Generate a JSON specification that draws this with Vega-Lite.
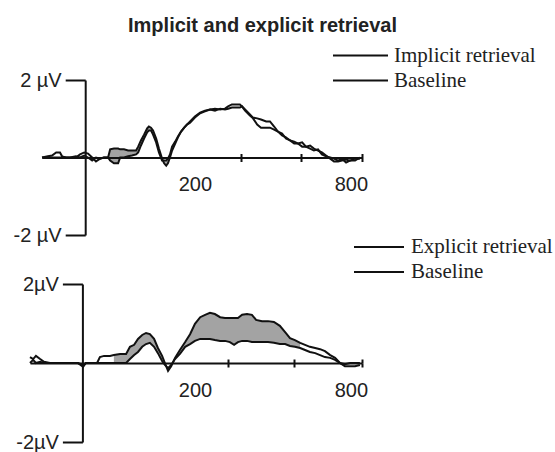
{
  "$schema": "https://vega.github.io/schema/vega-lite/v6.json",
  "width": 555,
  "height": 452,
  "autosize": {"type": "none"},
  "padding": 0,
  "background": "white",
  "title": {
    "text": "Implicit and explicit retrieval",
    "font": "Liberation Sans",
    "fontSize": 20,
    "fontWeight": "bold",
    "color": "#222222",
    "anchor": "middle",
    "frame": "group",
    "offset": -52,
    "baseline": "alphabetic",
    "dx": -15
  },
  "config": {
    "view": {"stroke": null},
    "axis": {
      "grid": false,
      "title": null,
      "domainColor": "#111111",
      "domainWidth": 2,
      "tickColor": "#111111",
      "tickWidth": 2,
      "labelColor": "#222222",
      "labelFont": "Liberation Sans",
      "labelFontSize": 20,
      "labelOverlap": false,
      "labelFlush": false,
      "labelBound": false
    },
    "legend": {
      "orient": "none",
      "title": null,
      "symbolType": "stroke",
      "symbolStrokeWidth": 2,
      "labelFont": "Liberation Serif",
      "labelFontSize": 21,
      "labelColor": "#222222",
      "clipHeight": 25,
      "rowPadding": 0,
      "padding": 0,
      "offset": 0
    }
  },
  "datasets": {
    "top": [
      {"t": -125, "imp": 0, "base": 0},
      {"t": -108, "imp": 0.03, "base": 0},
      {"t": -96, "imp": 0.05, "base": 0},
      {"t": -84, "imp": 0.13, "base": 0},
      {"t": -73, "imp": 0.13, "base": 0},
      {"t": -67, "imp": 0.03, "base": 0},
      {"t": -55, "imp": 0, "base": 0},
      {"t": -44, "imp": 0, "base": 0},
      {"t": -27, "imp": 0, "base": 0.03},
      {"t": -15, "imp": 0.08, "base": 0},
      {"t": -3, "imp": 0.13, "base": 0.05},
      {"t": 8, "imp": 0.1, "base": 0},
      {"t": 20, "imp": 0, "base": -0.08},
      {"t": 31, "imp": -0.1, "base": 0},
      {"t": 43, "imp": -0.03, "base": -0.03},
      {"t": 54, "imp": 0, "base": 0},
      {"t": 66, "imp": 0, "base": 0, "shade": 1},
      {"t": 72, "imp": 0.21, "base": -0.08, "shade": 1},
      {"t": 83, "imp": 0.23, "base": -0.15, "shade": 1},
      {"t": 95, "imp": 0.23, "base": -0.15, "shade": 1},
      {"t": 101, "imp": 0.21, "base": 0, "shade": 1},
      {"t": 112, "imp": 0.21, "base": 0, "shade": 1},
      {"t": 124, "imp": 0.18, "base": 0.03, "shade": 1},
      {"t": 135, "imp": 0.18, "base": 0.05, "shade": 1},
      {"t": 147, "imp": 0.18, "base": 0.08, "shade": 1},
      {"t": 153, "imp": 0.28, "base": 0.13, "shade": 1},
      {"t": 161, "imp": 0.44, "base": 0.31, "shade": 1},
      {"t": 170, "imp": 0.59, "base": 0.49, "shade": 1},
      {"t": 179, "imp": 0.75, "base": 0.65, "shade": 1},
      {"t": 184, "imp": 0.8, "base": 0.7, "shade": 1},
      {"t": 190, "imp": 0.77, "base": 0.7, "shade": 1},
      {"t": 196, "imp": 0.7, "base": 0.59, "shade": 1},
      {"t": 205, "imp": 0.49, "base": 0.39, "shade": 1},
      {"t": 213, "imp": 0.23, "base": 0.13, "shade": 1},
      {"t": 222, "imp": -0.03, "base": -0.08, "shade": 1},
      {"t": 228, "imp": -0.15, "base": -0.08, "shade": 1},
      {"t": 234, "imp": -0.21, "base": -0.08, "shade": 1},
      {"t": 239, "imp": -0.15, "base": -0.03, "shade": 1},
      {"t": 245, "imp": 0, "base": 0.08, "shade": 1},
      {"t": 251, "imp": 0.18, "base": 0.28, "shade": 1},
      {"t": 260, "imp": 0.36, "base": 0.41},
      {"t": 268, "imp": 0.52, "base": 0.54},
      {"t": 277, "imp": 0.67, "base": 0.67},
      {"t": 286, "imp": 0.77, "base": 0.77},
      {"t": 294, "imp": 0.85, "base": 0.85},
      {"t": 303, "imp": 0.93, "base": 0.9},
      {"t": 317, "imp": 1.06, "base": 1.03},
      {"t": 332, "imp": 1.16, "base": 1.14},
      {"t": 346, "imp": 1.21, "base": 1.19},
      {"t": 361, "imp": 1.24, "base": 1.24},
      {"t": 375, "imp": 1.26, "base": 1.21},
      {"t": 390, "imp": 1.24, "base": 1.26},
      {"t": 404, "imp": 1.26, "base": 1.24},
      {"t": 413, "imp": 1.32, "base": 1.26},
      {"t": 424, "imp": 1.37, "base": 1.29},
      {"t": 436, "imp": 1.37, "base": 1.29},
      {"t": 447, "imp": 1.37, "base": 1.29},
      {"t": 453, "imp": 1.32, "base": 1.32},
      {"t": 462, "imp": 1.21, "base": 1.24},
      {"t": 476, "imp": 1.08, "base": 1.11},
      {"t": 485, "imp": 1.01, "base": 1.03},
      {"t": 497, "imp": 0.85, "base": 1.01},
      {"t": 508, "imp": 0.77, "base": 0.98},
      {"t": 523, "imp": 0.77, "base": 0.93},
      {"t": 534, "imp": 0.77, "base": 0.93},
      {"t": 546, "imp": 0.72, "base": 0.8},
      {"t": 557, "imp": 0.67, "base": 0.67},
      {"t": 569, "imp": 0.57, "base": 0.62},
      {"t": 580, "imp": 0.52, "base": 0.49},
      {"t": 592, "imp": 0.44, "base": 0.44},
      {"t": 604, "imp": 0.41, "base": 0.36},
      {"t": 615, "imp": 0.36, "base": 0.36},
      {"t": 627, "imp": 0.28, "base": 0.39},
      {"t": 638, "imp": 0.28, "base": 0.28},
      {"t": 650, "imp": 0.31, "base": 0.23},
      {"t": 661, "imp": 0.23, "base": 0.18},
      {"t": 673, "imp": 0.18, "base": 0.21},
      {"t": 684, "imp": 0.13, "base": 0.08},
      {"t": 696, "imp": 0.05, "base": 0.03},
      {"t": 708, "imp": -0.03, "base": 0},
      {"t": 719, "imp": -0.1, "base": -0.03},
      {"t": 731, "imp": -0.1, "base": -0.08},
      {"t": 742, "imp": -0.08, "base": -0.03},
      {"t": 754, "imp": -0.05, "base": -0.13},
      {"t": 765, "imp": -0.08, "base": -0.08},
      {"t": 780, "imp": -0.03, "base": -0.08},
      {"t": 794, "imp": -0.03, "base": 0}
    ],
    "bottom": [
      {"t": -150, "exp": 0.15, "base": 0},
      {"t": -141, "exp": 0.1, "base": 0.08},
      {"t": -133, "exp": 0.18, "base": 0},
      {"t": -121, "exp": 0.1, "base": 0.03},
      {"t": -110, "exp": 0.03, "base": 0},
      {"t": -93, "exp": 0, "base": 0},
      {"t": -64, "exp": 0, "base": 0},
      {"t": -35, "exp": 0, "base": 0},
      {"t": -13, "exp": 0, "base": 0},
      {"t": 2, "exp": -0.1, "base": -0.05},
      {"t": 10, "exp": 0, "base": 0},
      {"t": 27, "exp": 0, "base": 0},
      {"t": 42, "exp": 0, "base": 0},
      {"t": 50, "exp": 0.15, "base": 0},
      {"t": 62, "exp": 0.18, "base": 0},
      {"t": 79, "exp": 0.18, "base": 0},
      {"t": 90, "exp": 0.2, "base": 0, "shade": 1},
      {"t": 108, "exp": 0.23, "base": 0, "shade": 1},
      {"t": 125, "exp": 0.23, "base": 0, "shade": 1},
      {"t": 136, "exp": 0.41, "base": 0.1, "shade": 1},
      {"t": 148, "exp": 0.46, "base": 0.2, "shade": 1},
      {"t": 159, "exp": 0.61, "base": 0.28, "shade": 1},
      {"t": 171, "exp": 0.71, "base": 0.41, "shade": 1},
      {"t": 182, "exp": 0.76, "base": 0.48, "shade": 1},
      {"t": 193, "exp": 0.73, "base": 0.51, "shade": 1},
      {"t": 205, "exp": 0.61, "base": 0.41, "shade": 1},
      {"t": 216, "exp": 0.38, "base": 0.25, "shade": 1},
      {"t": 228, "exp": 0.18, "base": 0.05, "shade": 1},
      {"t": 236, "exp": 0, "base": -0.05, "shade": 1},
      {"t": 245, "exp": -0.2, "base": -0.13, "shade": 1},
      {"t": 254, "exp": -0.08, "base": -0.05, "shade": 1},
      {"t": 265, "exp": 0.13, "base": 0.1, "shade": 1},
      {"t": 279, "exp": 0.33, "base": 0.23, "shade": 1},
      {"t": 294, "exp": 0.53, "base": 0.41, "shade": 1},
      {"t": 308, "exp": 0.73, "base": 0.48, "shade": 1},
      {"t": 322, "exp": 0.99, "base": 0.56, "shade": 1},
      {"t": 337, "exp": 1.16, "base": 0.61, "shade": 1},
      {"t": 351, "exp": 1.22, "base": 0.61, "shade": 1},
      {"t": 365, "exp": 1.27, "base": 0.61, "shade": 1},
      {"t": 379, "exp": 1.24, "base": 0.58, "shade": 1},
      {"t": 394, "exp": 1.16, "base": 0.56, "shade": 1},
      {"t": 408, "exp": 1.14, "base": 0.56, "shade": 1},
      {"t": 422, "exp": 1.14, "base": 0.53, "shade": 1},
      {"t": 434, "exp": 1.14, "base": 0.46, "shade": 1},
      {"t": 445, "exp": 1.14, "base": 0.53, "shade": 1},
      {"t": 457, "exp": 1.22, "base": 0.56, "shade": 1},
      {"t": 471, "exp": 1.24, "base": 0.56, "shade": 1},
      {"t": 485, "exp": 1.22, "base": 0.53, "shade": 1},
      {"t": 497, "exp": 1.09, "base": 0.53, "shade": 1},
      {"t": 514, "exp": 1.06, "base": 0.53, "shade": 1},
      {"t": 531, "exp": 1.06, "base": 0.53, "shade": 1},
      {"t": 548, "exp": 1.04, "base": 0.51, "shade": 1},
      {"t": 565, "exp": 0.94, "base": 0.48, "shade": 1},
      {"t": 580, "exp": 0.78, "base": 0.48, "shade": 1},
      {"t": 594, "exp": 0.63, "base": 0.43, "shade": 1},
      {"t": 608, "exp": 0.58, "base": 0.41, "shade": 1},
      {"t": 623, "exp": 0.51, "base": 0.38, "shade": 1},
      {"t": 637, "exp": 0.46, "base": 0.33},
      {"t": 651, "exp": 0.41, "base": 0.28},
      {"t": 666, "exp": 0.38, "base": 0.25},
      {"t": 680, "exp": 0.35, "base": 0.2},
      {"t": 694, "exp": 0.3, "base": 0.15},
      {"t": 709, "exp": 0.2, "base": 0.13},
      {"t": 723, "exp": 0.13, "base": 0.08},
      {"t": 737, "exp": 0, "base": 0},
      {"t": 751, "exp": -0.08, "base": -0.03},
      {"t": 766, "exp": -0.08, "base": 0},
      {"t": 780, "exp": -0.08, "base": 0},
      {"t": 794, "exp": -0.05, "base": 0}
    ]
  },
  "layer": [
    {
      "data": {"name": "top"},
      "transform": [{"filter": {"field": "shade", "equal": 1}}],
      "mark": {"type": "area", "color": "#a3a3a3", "opacity": 1},
      "encoding": {
        "x": {
          "field": "t", "type": "quantitative",
          "scale": {"domain": [-125, 800], "range": [42, 362], "nice": false, "zero": false},
          "axis": {"orient": "top", "offset": -157.5, "values": [450, 624, 800], "labels": false, "domain": false, "tickSize": 4, "zindex": 1}
        },
        "y": {
          "field": "imp", "type": "quantitative",
          "scale": {"domain": [-2, 2], "range": [235, 80], "nice": false, "zero": false},
          "axis": null
        },
        "y2": {"field": "base"}
      }
    },
    {
      "data": {"name": "top"},
      "transform": [{"fold": ["imp", "base"], "as": ["series", "v"]}],
      "mark": {"type": "line", "strokeWidth": 2, "strokeJoin": "miter"},
      "encoding": {
        "x": {
          "field": "t", "type": "quantitative",
          "scale": {"domain": [-125, 800], "range": [42, 362], "nice": false, "zero": false},
          "axis": {
            "orient": "bottom", "offset": -294.5,
            "values": [317, 450, 624, 768, 800],
            "labelExpr": "datum.value == 317 ? '200' : (datum.value == 768 ? '800' : '')",
            "tickOpacity": {"condition": {"test": "datum.value == 317 || datum.value == 768", "value": 0}, "value": 1},
            "tickSize": 4, "labelPadding": 13, "zindex": 1
          }
        },
        "y": {
          "field": "v", "type": "quantitative",
          "scale": {"domain": [-2, 2], "range": [235, 80], "nice": false, "zero": false},
          "axis": {
            "orient": "left", "offset": -85.2, "values": [-2, 2],
            "labelExpr": "datum.value > 0 ? '2 µV' : '-2 µV'",
            "tickSize": 20, "labelPadding": 4
          }
        },
        "color": {
          "field": "series", "type": "nominal",
          "scale": {"domain": ["imp", "base"], "range": ["#111111", "#111111"]},
          "legend": {
            "legendX": 332, "legendY": 43, "symbolSize": 3025, "labelOffset": 5,
            "labelExpr": "datum.label == 'imp' ? 'Implicit retrieval' : 'Baseline'"
          }
        },
        "detail": {"field": "series"}
      }
    },
    {
      "data": {"name": "bottom"},
      "transform": [{"filter": {"field": "shade", "equal": 1}}],
      "mark": {"type": "area", "color": "#a3a3a3", "opacity": 1},
      "encoding": {
        "x": {
          "field": "t", "type": "quantitative",
          "scale": {"domain": [-150, 800], "range": [30, 362], "nice": false, "zero": false},
          "axis": {"orient": "top", "offset": -363, "values": [417, 605, 800], "labels": false, "domain": false, "tickSize": 4, "zindex": 1}
        },
        "y": {
          "field": "exp", "type": "quantitative",
          "scale": {"domain": [-2, 2], "range": [442, 284], "nice": false, "zero": false},
          "axis": null
        },
        "y2": {"field": "base"}
      }
    },
    {
      "data": {"name": "bottom"},
      "transform": [{"fold": ["exp", "base"], "as": ["series", "v"]}],
      "mark": {"type": "line", "strokeWidth": 2, "strokeJoin": "miter"},
      "encoding": {
        "x": {
          "field": "t", "type": "quantitative",
          "scale": {"domain": [-150, 800], "range": [30, 362], "nice": false, "zero": false},
          "axis": {
            "orient": "bottom", "offset": -89,
            "values": [322, 417, 605, 768, 800],
            "labelExpr": "datum.value == 322 ? '200' : (datum.value == 768 ? '800' : '')",
            "tickOpacity": {"condition": {"test": "datum.value == 322 || datum.value == 768", "value": 0}, "value": 1},
            "tickSize": 4, "labelPadding": 13, "zindex": 1
          }
        },
        "y": {
          "field": "v", "type": "quantitative",
          "scale": {"domain": [-2, 2], "range": [442, 284], "nice": false, "zero": false},
          "axis": {
            "orient": "left", "offset": -82.4, "values": [-2, 2],
            "labelExpr": "datum.value > 0 ? '2µV' : '-2µV'",
            "tickSize": 20, "labelPadding": 4
          }
        },
        "color": {
          "field": "series", "type": "nominal",
          "scale": {"domain": ["exp", "base"], "range": ["#111111", "#111111"]},
          "legend": {
            "legendX": 353, "legendY": 234.5, "symbolSize": 2500, "labelOffset": 6,
            "labelExpr": "datum.label == 'exp' ? 'Explicit retrieval' : 'Baseline'"
          }
        },
        "detail": {"field": "series"}
      }
    }
  ],
  "resolve": {
    "scale": {"x": "independent", "y": "independent", "color": "independent"},
    "axis": {"x": "independent", "y": "independent"},
    "legend": {"color": "independent"}
  }
}
